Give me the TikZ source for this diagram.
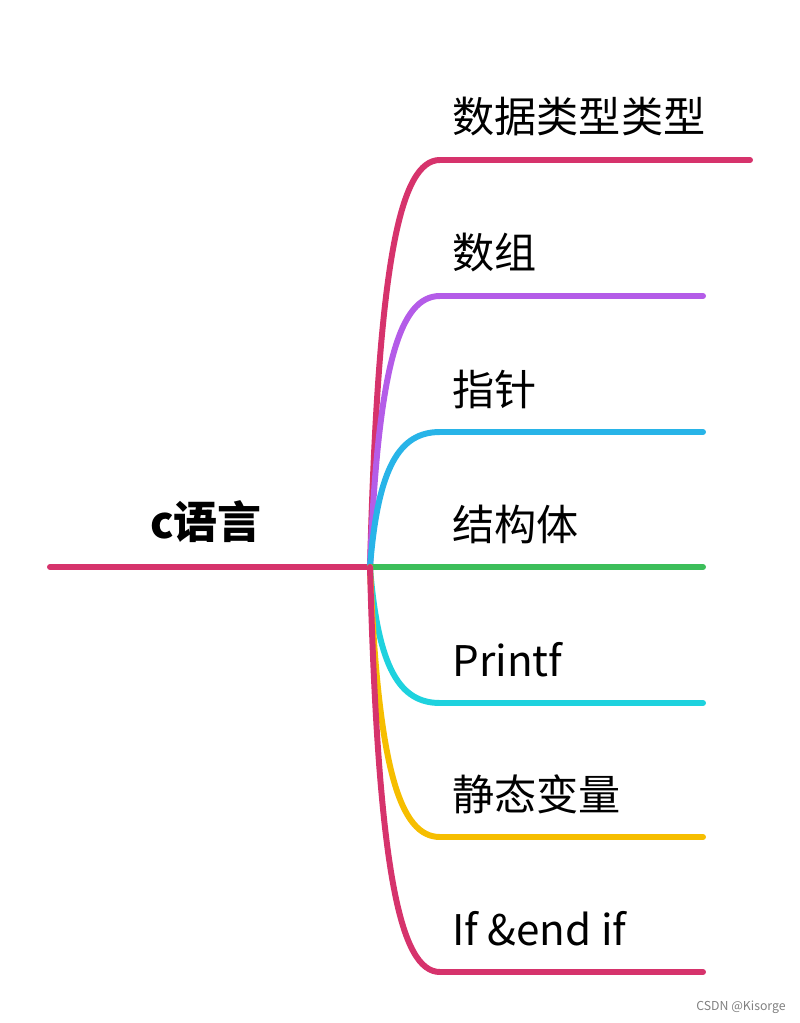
\documentclass[tikz,border=0pt]{standalone}
\usepackage{fontspec}
\setmainfont{Noto Sans CJK SC}
\usetikzlibrary{positioning}
\definecolor{mroot}{RGB}{214,51,108}
\definecolor{mpurple}{RGB}{180,92,232}
\definecolor{mblue}{RGB}{40,180,232}
\definecolor{mgreen}{RGB}{60,190,90}
\definecolor{mcyan}{RGB}{30,210,222}
\definecolor{myellow}{RGB}{246,190,0}
\tikzset{
  branch/.style={line width=3.4pt, line cap=round},
  label/.style={anchor=west, inner sep=0pt, font=\fontsize{24}{27}\selectfont},
}
\begin{document}
\begin{tikzpicture}[x=0.02cm, y=-0.02cm]
    \useasboundingbox (0,0) rectangle (800,1023);
    \coordinate (start) at (50,567);
    \coordinate (hub)   at (370,567);
    \node[font=\fontsize{25}{28}\selectfont\bfseries] (root) at (206,522) {c语言};

    \draw[branch, mroot] (start) -- (hub);

    % branches: y, end x, colour, text
    \foreach \y/\xe/\col/\txt [count=\i] in {
        160/750/mroot/数据类型类型,
        296/703/mpurple/数组,
        432/703/mblue/指针,
        567/703/mgreen/结构体,
        703/703/mcyan/Printf,
        837/703/myellow/静态变量,
        972/703/mroot/If \&end if} {
      \coordinate (bend\i) at (440,\y);
      \coordinate (tip\i)  at (\xe,\y);
      \node[label] (item\i) at (452,\y-43) {\txt};
      \draw[branch, \col] (hub) .. controls (378,{0.75*\y+0.25*567}) and (400,\y) .. (bend\i) -- (tip\i);
    }

    \node[anchor=east, inner sep=0pt, font=\fontsize{7}{8}\selectfont, text=gray] (mark) at (786,1007) {CSDN @Kisorge};
\end{tikzpicture}
\end{document}
